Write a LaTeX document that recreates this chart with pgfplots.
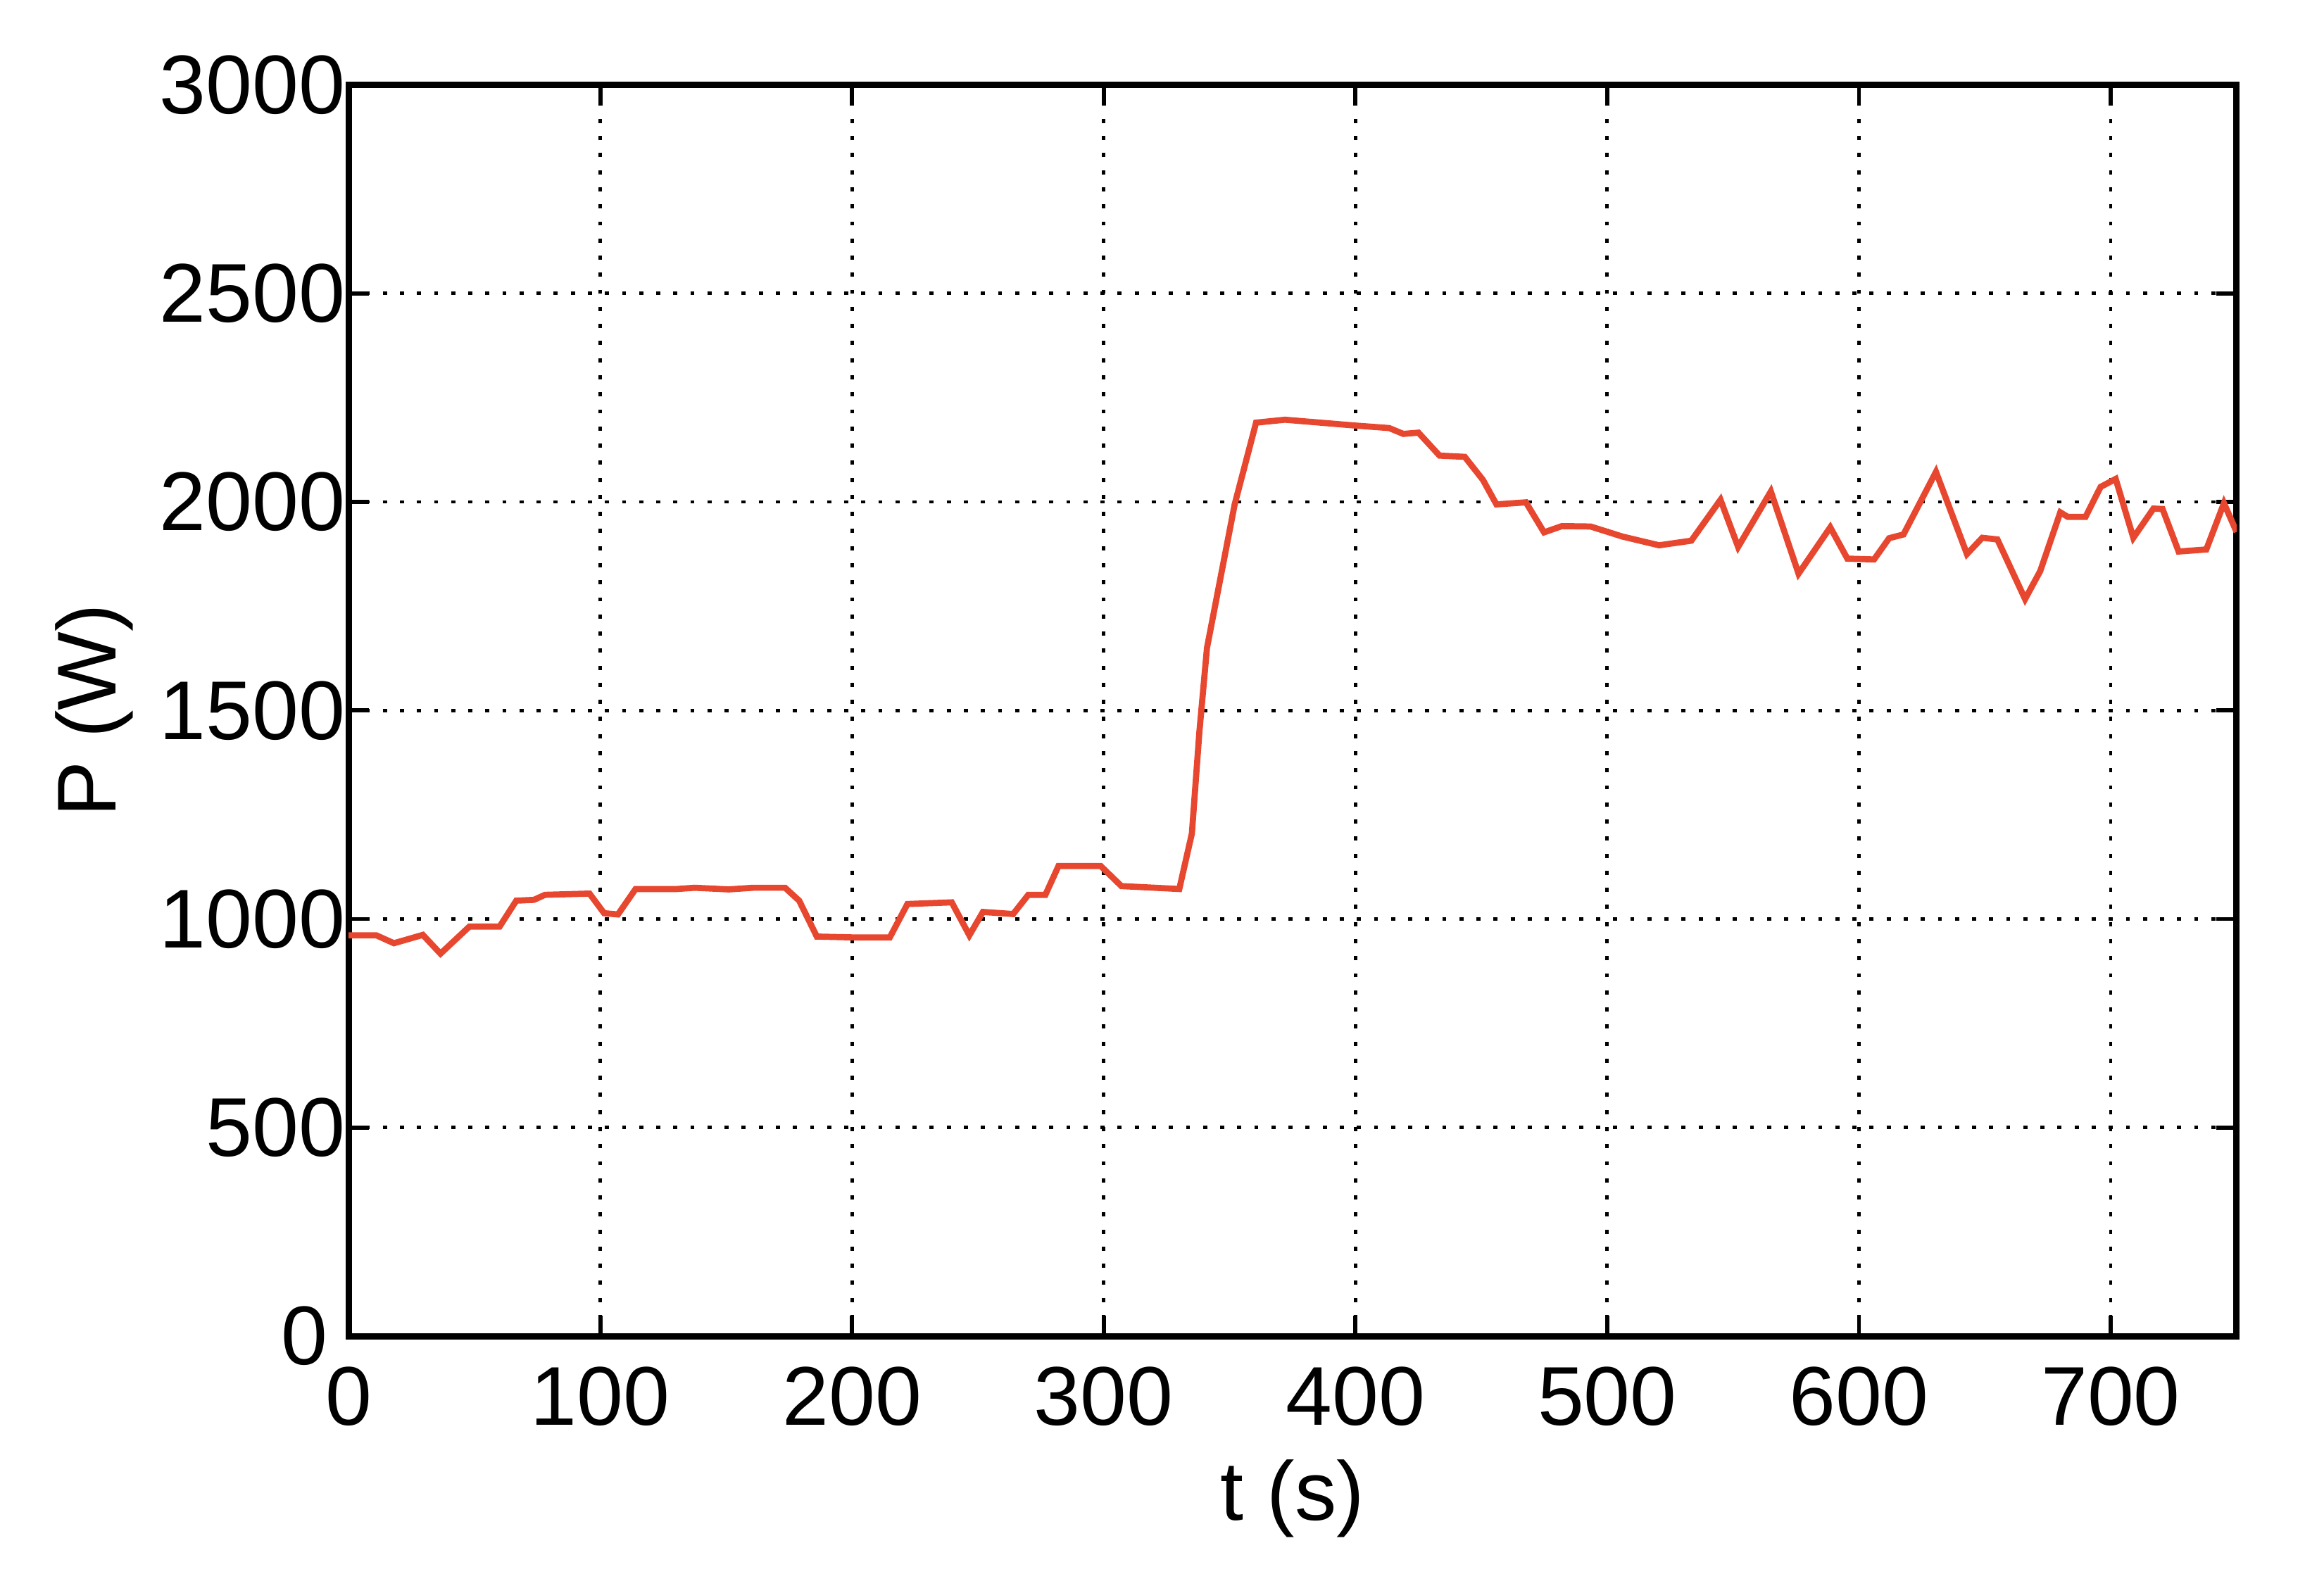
\documentclass[border=0pt]{standalone}
\usepackage{pgfplots}
\pgfplotsset{compat=1.18}
\usepackage{fontspec}
\setmainfont{Liberation Sans}
\definecolor{pline}{HTML}{E8472F}

\begin{document}
\begin{tikzpicture}
\begin{axis}[
  scale only axis,
  width=276.2pt, height=183.1pt,
  xmin=0, xmax=750, ymin=0, ymax=3000,
  xtick={0,100,...,700},
  ytick={0,500,...,3000},
  yticklabels={0\kern2.5pt,500,1000,1500,2000,2500,3000},
  grid=major,
  major grid style={black, line width=0.5pt, dash pattern=on 0.6pt off 1.9pt},
  axis line style={black, line width=0.9pt},
  tick style={black, line width=0.6pt},
  tick align=inside,
  major tick length=3pt,
  tick pos=both,
  /pgf/number format/assume math mode=true,
  /pgf/number format/1000 sep={},
  ticklabel style={font=\fontsize{12.2}{14}\selectfont},
  xticklabel style={yshift=-1pt},
  yticklabel style={xshift=3pt},
  xlabel={t (s)}, ylabel={P (W)},
  label style={font=\fontsize{12.2}{14}\selectfont},
  xlabel style={yshift=2pt},
  ylabel style={yshift=-3pt},
]
\addplot[color=pline, line width=0.9pt] coordinates {
(0,961) (11,961) (18,942) (29.5,962) (36.5,917) (48,982) (60,982)
(66.6,1044) (73.6,1046) (78,1058) (95.7,1061) (101.5,1014) (107,1011)
(114,1072) (130.5,1072) (137.5,1075) (151,1071) (160.7,1075) (173.4,1075)
(179,1044) (186,958) (200,956) (215,956) (222,1036) (239.6,1040)
(246.6,961) (252,1017) (264,1012) (270,1058) (276.8,1058) (282,1127)
(298.8,1127) (307,1079) (330,1072) (335,1205) (338,1450) (341,1650)
(352,1994) (360.5,2190) (372,2197) (400,2183) (413.4,2177) (419,2163)
(425,2166) (433.4,2111) (443.4,2108) (450.6,2053) (456,1994) (467.7,1999)
(474.9,1927) (482,1942) (493.4,1941) (506,1917) (520.6,1896) (533.4,1907)
(545,2005) (552,1892) (565,2025) (576,1828) (588.6,1939) (595.4,1864)
(606,1862) (612,1913) (617.7,1922) (630.6,2072) (642.9,1875) (649,1914)
(655,1910) (666,1767) (672,1834) (680,1975) (683,1964) (690,1964)
(696,2036) (702,2055) (709,1914) (717,1984) (720.6,1983) (727,1881)
(738,1886) (745,1997) (750,1928)
};
\coordinate (sw) at (rel axis cs:0,0);
\coordinate (ne) at (rel axis cs:1,1);
\end{axis}
\useasboundingbox ([xshift=-51pt,yshift=-34.7pt]sw) rectangle ([xshift=12.8pt,yshift=12.4pt]ne);
\end{tikzpicture}
\end{document}
